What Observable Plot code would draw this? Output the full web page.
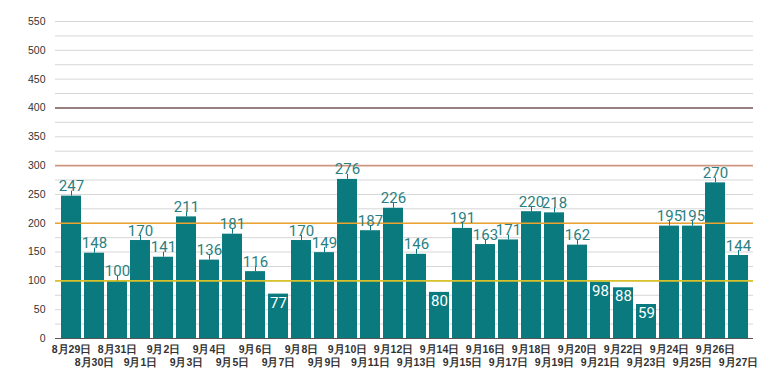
<!DOCTYPE html>
<html>
<head>
<meta charset="utf-8">
<script src="https://cdn.jsdelivr.net/npm/d3@7"></script>
<script src="https://cdn.jsdelivr.net/npm/@observablehq/plot@0.6"></script>
<style>
  body { margin: 0; background: #fff; }
  svg { font-family: "Liberation Sans", Arial, sans-serif; }
</style>
</head>
<body>
<div id="chart"></div>
<script>
const dates = ["8月29日","8月30日","8月31日","9月1日","9月2日","9月3日","9月4日","9月5日","9月6日","9月7日",
  "9月8日","9月9日","9月10日","9月11日","9月12日","9月13日","9月14日","9月15日","9月16日","9月17日",
  "9月18日","9月19日","9月20日","9月21日","9月22日","9月23日","9月24日","9月25日","9月26日","9月27日"];
const values = [247,148,100,170,141,211,136,181,116,77,170,149,276,187,226,146,80,191,163,171,220,218,162,98,88,59,195,195,270,144];
const refValues = [100, 200, 300, 400];
const refColors = ["#d9c12c", "#eba22e", "#cf9682", "#7d5c5c"];
const gridTicks = d3.range(0, 551, 25);
const labelTicks = d3.range(0, 551, 50);

const data = dates.map((d, i) => ({d, v: values[i]}));
const refs = refValues.map((v, i) => ({v, c: refColors[i]}));
const evenDates = dates.filter((d, i) => i % 2 === 0);
const oddDates = dates.filter((d, i) => i % 2 === 1);
const outside = data.filter(r => r.v >= 100);
const inside = data.filter(r => r.v < 100);

const chart = Plot.plot({
  width: 780,
  height: 390,
  marginTop: 21,
  marginLeft: 55,
  marginRight: 27,
  marginBottom: 52,
  x: {domain: dates, paddingInner: 0.14, paddingOuter: 0.04},
  y: {domain: [0, 550]},
  marks: [
    Plot.gridY(gridTicks, {stroke: "#d6d6d6", strokeOpacity: 1}),
    Plot.axisY(labelTicks, {tickSize: 0, tickPadding: 10, fontSize: 10.5, color: "#333", label: null}),
    Plot.barY(data, {x: "d", y: "v", fill: "#0a7a7f"}),
    Plot.ruleY(refs, {y: "v", stroke: "c", strokeWidth: 1.6}),
    Plot.ruleY([0], {stroke: "#555", strokeWidth: 1.2}),
    Plot.ruleX(outside, {x: "d", y1: "v", y2: "v", insetTop: -5, stroke: "#0a7a7f", strokeWidth: 1}),
    Plot.text(outside, {x: "d", y: "v", text: d => String(d.v), lineAnchor: "bottom", dy: -5,
      fill: "#2b7f82", fontSize: 15, fontFamily: "Roboto"}),
    Plot.text(inside, {x: "d", y: "v", text: d => String(d.v), lineAnchor: "top", dy: 3,
      fill: "#ffffff", fontSize: 15, fontFamily: "Roboto"}),
    Plot.axisX(evenDates, {tickSize: 0, tickPadding: 7, fontSize: 10.5, fontWeight: "bold", color: "#333", label: null}),
    Plot.axisX(oddDates, {tickSize: 0, tickPadding: 20, fontSize: 10.5, fontWeight: "bold", color: "#333", label: null})
  ]
});
document.getElementById("chart").append(chart);
</script>
</body>
</html>
